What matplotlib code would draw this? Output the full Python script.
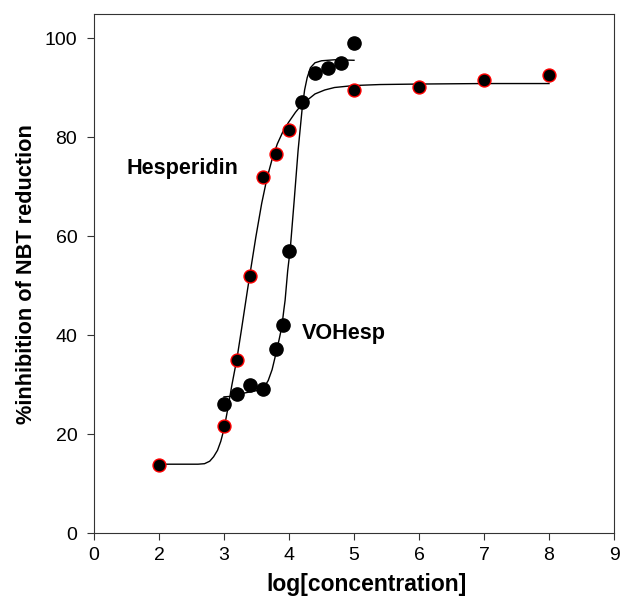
import matplotlib
matplotlib.use('Agg')
import matplotlib.pyplot as plt

plt.rcParams['font.family'] = ['Liberation Sans', 'DejaVu Sans']

# measured points
hesp_x = [2.0, 3.0, 3.2, 3.4, 3.6, 3.8, 4.0, 5.0, 6.0, 7.0, 8.0]
hesp_y = [13.7, 21.7, 34.9, 52.0, 71.9, 76.5, 81.4, 89.4, 90.1, 91.6, 92.6]

vohesp_x = [3.0, 3.2, 3.4, 3.6, 3.8, 3.9, 4.0, 4.2, 4.4, 4.6, 4.8, 5.0]
vohesp_y = [26.0, 28.0, 30.0, 29.1, 37.1, 42.0, 57.0, 87.0, 93.0, 94.0, 95.0, 99.0]

# fitted sigmoid curves
hesp_fit_x = [2.0, 2.6, 2.70, 2.78, 2.84, 2.90, 2.95, 2.98, 3.01, 3.06, 3.12, 3.20,
              3.27, 3.36, 3.42, 3.49, 3.58, 3.66, 3.74, 3.82, 3.90, 3.99, 4.10,
              4.20, 4.40, 4.55, 4.70, 5.00, 5.40, 6.00, 7.00, 8.00]
hesp_fit_y = [13.9, 13.9, 14.0, 14.5, 15.4, 16.7, 18.5, 20.0, 21.7, 25.2, 29.8, 35.3,
              41.2, 49.0, 54.0, 59.8, 66.6, 71.6, 75.5, 78.6, 80.9, 82.9, 85.0,
              86.6, 88.7, 89.5, 90.0, 90.4, 90.6, 90.7, 90.8, 90.8]

vohesp_fit_x = [3.00, 3.10, 3.20, 3.40, 3.55, 3.62, 3.68, 3.74, 3.80, 3.85, 3.89,
                3.92, 3.94, 3.98, 4.02, 4.08, 4.14, 4.20, 4.24, 4.28, 4.33, 4.40,
                4.50, 4.70, 5.00]
vohesp_fit_y = [27.5, 27.6, 28.0, 28.5, 28.9, 29.5, 30.8, 33.0, 36.3, 39.2, 41.7,
                45.0, 47.0, 53.0, 57.5, 67.2, 77.3, 85.4, 89.5, 92.0, 94.0, 95.0,
                95.4, 95.6, 95.5]

xtick_pos = [1, 2, 3, 4, 5, 6, 7, 8, 9]
xtick_labels = ['0', '2', '3', '4', '5', '6', '7', '8', '9']
ytick_pos = [0, 20, 40, 60, 80, 100]

fig = plt.figure(figsize=(6.2, 5.97), dpi=100)
ax = fig.add_axes([94 / 620, 1 - 533 / 597, 520 / 620, 519 / 597])

ax.plot(hesp_fit_x, hesp_fit_y, color='black', lw=1.0, zorder=2)
ax.plot(vohesp_fit_x, vohesp_fit_y, color='black', lw=1.0, zorder=2)

ax.plot(hesp_x, hesp_y, 'o', color='black', markeredgecolor='red',
        markersize=9.3, markeredgewidth=1.0, zorder=3)
ax.plot(vohesp_x, vohesp_y, 'o', color='black', markeredgecolor='black',
        markersize=9.5, markeredgewidth=1.0, zorder=4)

ax.text(1.503, 72.5, 'Hesperidin', fontsize=15.6, fontweight='bold', va='baseline')
ax.text(4.19, 39.1, 'VOHesp', fontsize=15.6, fontweight='bold', va='baseline')

ax.set_xlim(1, 9)
ax.set_ylim(0, 104.85)
ax.set_xticks(xtick_pos)
ax.set_xticklabels(xtick_labels)
ax.set_yticks(ytick_pos)

for s in ax.spines.values():
    s.set_color('#333333')
    s.set_linewidth(0.8)
ax.tick_params(axis='both', direction='out', length=5, width=0.8,
               labelsize=14, color='#333333')
ax.tick_params(axis='x', pad=5)
ax.tick_params(axis='y', pad=7)

fig.text(367 / 620, 1 - 591.0 / 597, 'log[concentration]', fontsize=16.5,
         fontweight='bold', ha='center', va='baseline')
fig.text(32 / 620, 1 - 274.5 / 597, '%inhibition of NBT reduction', fontsize=15.7,
         fontweight='bold', ha='center', va='baseline', rotation=90,
         rotation_mode='anchor')

fig.savefig('out.png', dpi=100)
